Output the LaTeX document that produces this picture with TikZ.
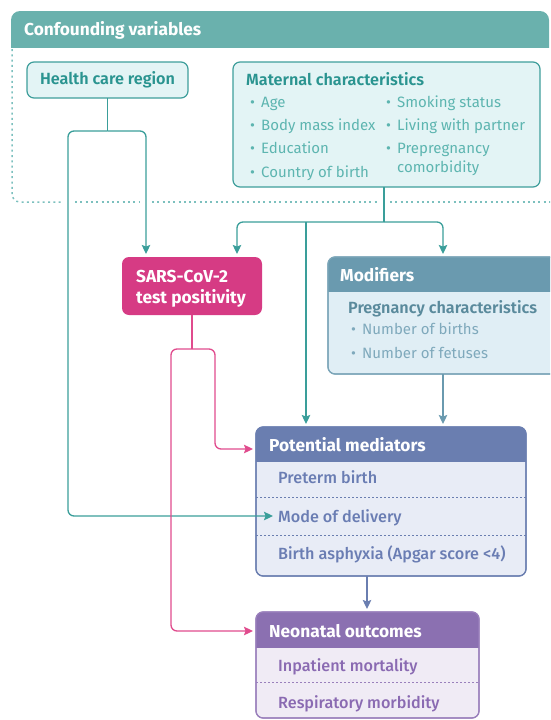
\documentclass[tikz,border=0pt]{standalone}
\usepackage{fontspec}
\setmainfont{Fira Sans}[BoldFont={Fira Sans SemiBold}]
\newfontfamily\medfont{Fira Sans Medium}
\newfontfamily\hdrfont{Fira Sans}
\usetikzlibrary{arrows.meta,calc}
\definecolor{confhdr}{HTML}{6AB1AD}
\definecolor{dotc}{HTML}{7CC0BE}
\definecolor{lboxfill}{HTML}{E3F4F5}
\definecolor{lboxline}{HTML}{3E9E9B}
\definecolor{tealtxt}{HTML}{2A9490}
\definecolor{tealitem}{HTML}{5DB5B0}
\definecolor{tealline}{HTML}{3A9E9A}
\definecolor{sarsfill}{HTML}{D63B84}
\definecolor{pinkline}{HTML}{E04B8D}
\definecolor{modhdr}{HTML}{6A9AAF}
\definecolor{modbody}{HTML}{E0EEF5}
\definecolor{modline}{HTML}{7BA5B8}
\definecolor{modtxt}{HTML}{5A8A9C}
\definecolor{moditem}{HTML}{7FA9BC}
\definecolor{medhdr}{HTML}{6A7EB0}
\definecolor{medbody}{HTML}{E8ECF6}
\definecolor{medtxt}{HTML}{6A7DB3}
\definecolor{outhdr}{HTML}{8B70B1}
\definecolor{outbody}{HTML}{F0EBF5}
\definecolor{outline}{HTML}{9A80BC}
\definecolor{outtxt}{HTML}{8A6AB2}
\newcommand\bul{\makebox[11pt][l]{\textbullet}}
\begin{document}
\begin{tikzpicture}[x=1pt,y=-1pt,
  every node/.style={inner sep=3pt, inner xsep=0pt, font=\fontsize{15}{18}\selectfont},
  boxnode/.style={outer sep=0pt, rounded corners=7pt, line width=1.2pt, anchor=north west},
  lbox/.style={boxnode, draw=lboxline, fill=lboxfill},
  hdrtxt/.style={anchor=base west, text=white, font=\fontsize{17.3}{20}\selectfont\hdrfont\bfseries},
  ttl/.style={anchor=base west, font=\fontsize{16.2}{19}\selectfont\bfseries},
  itm/.style={anchor=base west},
  mitm/.style={anchor=base west, font=\fontsize{16.2}{19}\selectfont\medfont},
  dotline/.style={draw=dotc, line width=1.5pt, dash pattern=on 2pt off 3.3pt},
  conn/.style={line width=1.3pt, rounded corners=6pt},
  tconn/.style={conn, draw=tealline},
  pconn/.style={conn, draw=pinkline},
  arr/.style={-{Stealth[length=9pt,width=8.5pt,inset=1.5pt]}, shorten >=3pt}
]
\useasboundingbox (0,0) rectangle (550,720);
\clip (0,0) rectangle (550,720);

% ---------- confounding variables frame ----------
\begin{scope}
  \clip (0,0) rectangle (560,47);
  \fill[confhdr, rounded corners=9pt] (11,11) rectangle (549,80);
\end{scope}
\node[hdrtxt] (conft) at (24,35) {Confounding variables};
\draw[dotline, rounded corners=8pt] (12,49) -- (12,202) -- (62,202);
\draw[dotline] (75,202) -- (140,202);
\draw[dotline] (152,202) -- (378,202);
\draw[dotline] (390,202) -- (556,202);

% ---------- health care region ----------
\node[lbox, anchor=center, minimum width=161pt, minimum height=36pt,
      font=\fontsize{16.2}{19}\selectfont\bfseries, text=tealtxt] (hcr) at (107.5,80) {Health care region};

% ---------- maternal characteristics ----------
\node[lbox, minimum width=307pt, minimum height=125pt] (mat) at (233,62) {};
\node[ttl, text=tealtxt] (matt) at (246,85) {Maternal characteristics};
\node[itm, text=tealitem] (m1) at (250,107) {\bul Age};
\node[itm, text=tealitem] (m2) at (250,130) {\bul Body mass index};
\node[itm, text=tealitem] (m3) at (250,153) {\bul Education};
\node[itm, text=tealitem] (m4) at (250,177) {\bul Country of birth};
\node[itm, text=tealitem] (m5) at (386,107) {\bul Smoking status};
\node[itm, text=tealitem] (m6) at (386,130) {\bul Living with partner};
\node[itm, text=tealitem] (m7) at (386,153) {\bul Prepregnancy};
\node[itm, text=tealitem] (m8) at (397,172) {comorbidity};

% ---------- SARS-CoV-2 ----------
\node[boxnode, fill=sarsfill, minimum width=140pt, minimum height=58pt] (sars) at (122,257) {};
\node[hdrtxt] (s1) at (136,282) {SARS-CoV-2};
\node[hdrtxt] (s2) at (136,303) {test positivity};

% ---------- modifiers ----------
\node[boxnode, draw=modline, fill=modbody, minimum width=235pt, minimum height=117pt] (mod) at (328,257) {};
\begin{scope}
  \clip[rounded corners=7pt] (mod.north west) rectangle (mod.south east);
  \fill[modhdr] (mod.north west) rectangle ([yshift=-35pt]mod.north east);
\end{scope}
\draw[modline, line width=1.2pt, rounded corners=7pt] (mod.north west) rectangle (mod.south east);
\node[hdrtxt] (modt) at (340,281) {Modifiers};
\node[ttl, text=modtxt] (preg) at (348,313) {Pregnancy characteristics};
\node[itm, text=moditem] (p1) at (351,334) {\bul Number of births};
\node[itm, text=moditem] (p2) at (351,358) {\bul Number of fetuses};

% ---------- potential mediators ----------
\node[boxnode, draw=medhdr, fill=medbody, minimum width=270pt, minimum height=149pt] (med) at (256,427) {};
\begin{scope}
  \clip[rounded corners=7pt] (med.north west) rectangle (med.south east);
  \fill[medhdr] (med.north west) rectangle ([yshift=-35pt]med.north east);
\end{scope}
\draw[medhdr, line width=1.2pt, rounded corners=7pt] (med.north west) rectangle (med.south east);
\draw[medhdr, line width=1pt, dash pattern=on 2pt off 2pt] ([yshift=-70pt]med.north west) -- ([yshift=-70pt]med.north east);
\draw[medhdr, line width=1pt, dash pattern=on 2pt off 2pt] ([yshift=-108pt]med.north west) -- ([yshift=-108pt]med.north east);
\node[hdrtxt] (medt) at (269,451) {Potential mediators};
\node[mitm, text=medtxt] (pre) at (278,483) {Preterm birth};
\node[mitm, text=medtxt] (mode) at (278,522) {Mode of delivery};
\node[mitm, text=medtxt] (asph) at (278,559) {Birth asphyxia (Apgar score <4)};

% ---------- neonatal outcomes ----------
\node[boxnode, draw=outline, fill=outbody, minimum width=223pt, minimum height=106pt] (out) at (256,612) {};
\begin{scope}
  \clip[rounded corners=7pt] (out.north west) rectangle (out.south east);
  \fill[outhdr] (out.north west) rectangle ([yshift=-36pt]out.north east);
\end{scope}
\draw[outline, line width=1.2pt, rounded corners=7pt] (out.north west) rectangle (out.south east);
\draw[outline, line width=1pt, dash pattern=on 2pt off 2pt] ([yshift=-70pt]out.north west) -- ([yshift=-70pt]out.north east);
\node[hdrtxt] (outt) at (269,637) {Neonatal outcomes};
\node[mitm, text=outtxt] (o1) at (278,671) {Inpatient mortality};
\node[mitm, text=outtxt] (o2) at (278,708) {Respiratory morbidity};

% ---------- connectors ----------
\coordinate (hj) at (107.5,131);
\coordinate (lbend) at (68,516);
\draw[tconn] (hcr.south) -- (hj);
\draw[tconn, arr] (hj) -| ([xshift=24pt]sars.north west);
\draw[tconn, arr, shorten >=5pt] (hj) -| (lbend) -- (mode.west |- lbend);

\coordinate (mj) at (384,222);
\coordinate (medin) at ($(med.north west)+(50,0)$);
\coordinate (modx) at ($(mod.north west)+(115,0)$);
\coordinate (medx) at ($(med.north west)+(111,0)$);
\draw[tconn] (mj |- mat.south) -- (mj);
\draw[tconn, arr] (mj) -| ([xshift=-25pt]sars.north east);
\draw[tconn, arr] (mj) -| (modx);
\draw[tconn, arr] (medin |- mj) -- (medin);

\coordinate (sj) at (192,349);
\coordinate (pb1) at (215,449);
\coordinate (pb2) at (171,631);
\draw[pconn] (sars.south) -- (sj);
\draw[pconn, arr] (sj) -| (pb1) -- (med.west |- pb1);
\draw[pconn, arr] (sj) -| (pb2) -- (out.west |- pb2);

\draw[conn, draw=modhdr, arr] (modx |- mod.south) -- (modx |- med.north);
\draw[conn, draw=medhdr, arr] (medx |- med.south) -- (medx |- out.north);
\end{tikzpicture}
\end{document}
